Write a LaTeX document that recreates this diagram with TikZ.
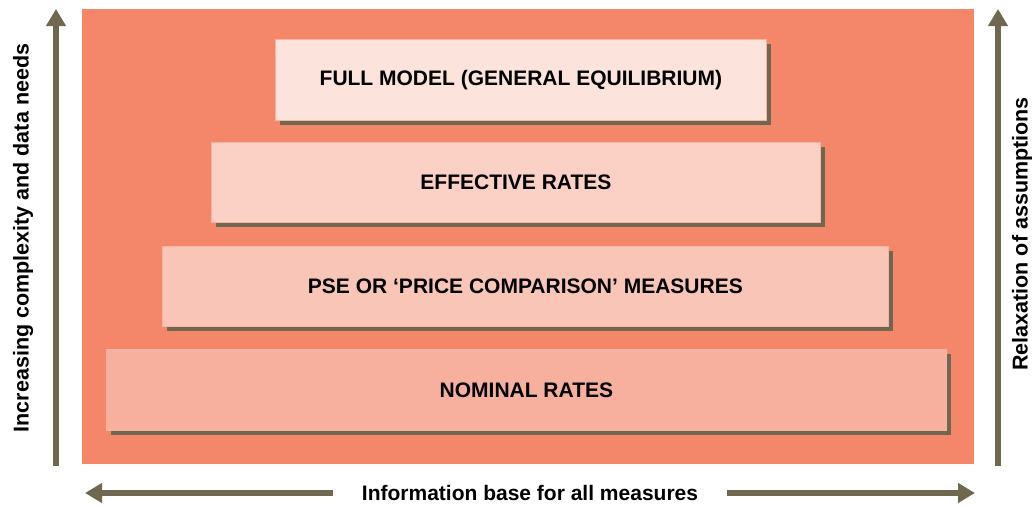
\documentclass[tikz,border=0pt]{standalone}
\usepackage{fontspec}
\setmainfont{Liberation Sans}
\usetikzlibrary{arrows.meta}
\definecolor{bgred}{HTML}{F4866A}
\definecolor{shadowc}{HTML}{706750}
\definecolor{edgec}{HTML}{F7B4A2}
\definecolor{fillA}{HTML}{FCE4DD}
\definecolor{fillB}{HTML}{FAD1C4}
\definecolor{fillC}{HTML}{F8C5B6}
\definecolor{fillD}{HTML}{F6B09D}
\tikzset{
  tier/.style={draw=edgec, line width=0.8pt, font=\bfseries\fontsize{21}{24}\selectfont, text=black, inner sep=0pt, anchor=north west},
  bigarrow/.style={draw=shadowc, line width=6pt, -{Triangle[length=17pt,width=19pt]}},
  sidelabel/.style={font=\bfseries\fontsize{21.5}{24}\selectfont, rotate=90}
}
\begin{document}
\begin{tikzpicture}[x=1pt,y=-1pt]
\useasboundingbox (0,0) rectangle (1034,507);
\fill[bgred] (82,9) rectangle (974,464);
% shadows
\fill[shadowc] (280,44) rectangle (771,125);
\fill[shadowc] (216,147) rectangle (825,227);
\fill[shadowc] (167,251) rectangle (893,331);
\fill[shadowc] (111,354) rectangle (951,435);
% tiers
\node[tier, fill=fillA, minimum width=491pt, minimum height=81pt] (t1) at (275,39) {FULL MODEL (GENERAL EQUILIBRIUM)};
\node[tier, fill=fillB, minimum width=609pt, minimum height=80pt] (t2) at (211,142) {EFFECTIVE RATES};
\node[tier, fill=fillC, minimum width=726pt, minimum height=80pt] (t3) at (162,246) {PSE OR ‘PRICE COMPARISON’ MEASURES};
\node[tier, fill=fillD, minimum width=840pt, minimum height=81pt] (t4) at (106,349) {NOMINAL RATES};
% side arrows
\coordinate (lb) at (56,466);
\coordinate (lt) at (56,9);
\coordinate (rb) at (998,466);
\coordinate (rt) at (998,9);
\draw[bigarrow] (lb) -- (lt);
\draw[bigarrow] (rb) -- (rt);
\node[sidelabel] (ll) at (23,238) {Increasing complexity and data needs};
\node[sidelabel] (rl) at (1022,234) {Relaxation of assumptions};
% bottom
\node[font=\bfseries\fontsize{21}{24}\selectfont] (info) at (530,493) {Information base for all measures};
\coordinate (bl) at (85,493);
\coordinate (br) at (975,493);
\draw[bigarrow] (333,493) -- (bl);
\draw[bigarrow] (727,493) -- (br);
\end{tikzpicture}
\end{document}
